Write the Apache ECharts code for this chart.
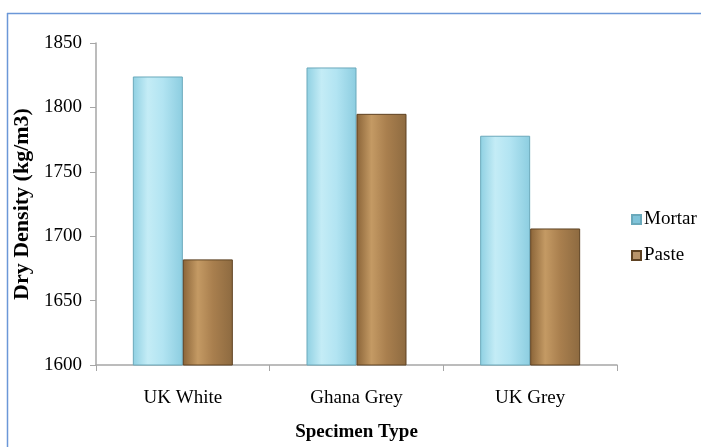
<!DOCTYPE html>
<html>
<head>
<meta charset="utf-8">
<script src="https://cdn.jsdelivr.net/npm/echarts@6/dist/echarts.min.js"></script>
<style>
html,body{margin:0;padding:0;background:#fff;}
#c{width:701px;height:447px;}
</style>
</head>
<body>
<div id="c"></div>
<script>
var categories = ['UK White', 'Ghana Grey', 'UK Grey'];
var mortar = [1824, 1831, 1778];
var paste = [1682, 1795, 1706];
var yTicks = [1600, 1650, 1700, 1750, 1800, 1850];

var FONT = '"Liberation Serif","Times New Roman",serif';

var mortarFill = new echarts.graphic.LinearGradient(0, 0, 1, 0, [
  {offset: 0, color: '#8fd0e2'},
  {offset: 0.3, color: '#c4ecf6'},
  {offset: 0.6, color: '#b2e4f2'},
  {offset: 1, color: '#8ccde0'}
]);
var pasteFill = new echarts.graphic.LinearGradient(0, 0, 1, 0, [
  {offset: 0, color: '#8a6438'},
  {offset: 0.3, color: '#c49a64'},
  {offset: 0.6, color: '#a97f4e'},
  {offset: 1, color: '#8d6a40'}
]);

var chart = echarts.init(document.getElementById('c'));
chart.setOption({
  animation: false,
  backgroundColor: '#ffffff',
  graphic: [
    {type: 'line', shape: {x1: 7.5, y1: 13, x2: 7.5, y2: 447}, style: {stroke: '#6b97d8', lineWidth: 1.5}},
    {type: 'line', shape: {x1: 7, y1: 13.5, x2: 701, y2: 13.5}, style: {stroke: '#6b97d8', lineWidth: 1.5}}
  ],
  grid: {left: 96, right: 84, top: 43, bottom: 74},
  legend: {
    orient: 'vertical',
    left: 626,
    top: 205,
    itemWidth: 9,
    itemHeight: 9,
    itemGap: 17,
    icon: 'rect',
    textStyle: {fontFamily: FONT, fontSize: 19, color: '#000', padding: [0, 0, 0, -2]},
    data: [
      {name: 'Mortar', itemStyle: {color: '#7fc3d9'}},
      {name: 'Paste', itemStyle: {color: '#b8946a'}}
    ]
  },
  xAxis: {
    type: 'category',
    data: categories,
    name: 'Specimen Type',
    nameLocation: 'middle',
    nameGap: 58,
    nameTextStyle: {fontFamily: FONT, fontSize: 19, fontWeight: 'bold', color: '#000'},
    axisLine: {lineStyle: {color: '#a6a6a6', width: 1.5}},
    axisTick: {show: true, length: 6, lineStyle: {color: '#a6a6a6'}},
    axisLabel: {fontFamily: FONT, fontSize: 19, color: '#000', margin: 24}
  },
  yAxis: {
    type: 'value',
    min: yTicks[0],
    max: yTicks[yTicks.length - 1],
    interval: 50,
    name: 'Dry Density (kg/m3)',
    nameLocation: 'middle',
    nameGap: 54,
    nameTextStyle: {fontFamily: FONT, fontSize: 22, fontWeight: 'bold', color: '#000'},
    axisLine: {show: true, lineStyle: {color: '#a6a6a6', width: 1.5}},
    axisTick: {show: true, length: 6, lineStyle: {color: '#a6a6a6'}},
    splitLine: {show: false},
    axisLabel: {fontFamily: FONT, fontSize: 19, color: '#000', margin: 14, formatter: function (v) { return String(v); }}
  },
  series: [
    {
      name: 'Mortar',
      type: 'bar',
      data: mortar,
      barWidth: 50,
      barGap: '0%',
      itemStyle: {color: mortarFill, borderColor: '#6aa9bb', borderWidth: 1}
    },
    {
      name: 'Paste',
      type: 'bar',
      data: paste,
      barWidth: 50,
      barGap: '0%',
      itemStyle: {color: pasteFill, borderColor: '#5e4222', borderWidth: 1}
    }
  ]
});
</script>
</body>
</html>
